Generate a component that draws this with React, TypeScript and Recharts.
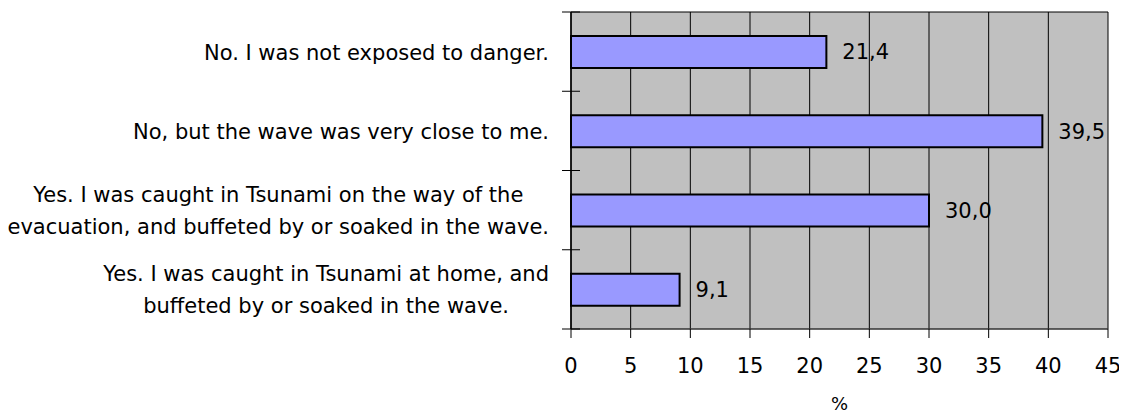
import React from 'react';
import { BarChart, Bar, XAxis, YAxis, CartesianGrid, LabelList } from 'recharts';

const categories: string[] = [
  'No. I was not exposed to danger.',
  'No, but the wave was very close to me.',
  'Yes. I was caught in Tsunami on the way of the\nevacuation, and buffeted by or soaked in the wave.',
  'Yes. I was caught in Tsunami at home, and\nbuffeted by or soaked in the wave.',
];
const values: number[] = [21.4, 39.5, 30.0, 9.1];
const xTicks: number[] = [0, 5, 10, 15, 20, 25, 30, 35, 40, 45];
const axisTitle = '%';

const data = categories.map((name, i) => ({ name, value: values[i] }));

const FONT = '"DejaVu Sans", sans-serif';
const FS = 21;
const W = 1119;
const H = 408;
const MARGIN = { top: 4, right: 19, left: 0, bottom: 0 };
const X_AXIS_H = 87;
const Y_AXIS_W = 563;
const PLOT_H = H - MARGIN.top - MARGIN.bottom - X_AXIS_H;
const BAND = PLOT_H / categories.length;

let ctx: CanvasRenderingContext2D | null = null;
const measure = (t: string) => {
  if (!ctx) {
    const c = document.createElement('canvas');
    ctx = c.getContext('2d');
  }
  if (!ctx) return t.length * 10;
  ctx.font = `${FS}px "DejaVu Sans"`;
  return ctx.measureText(t).width;
};

const YTick = (props: any) => {
  const { x, y, payload, index } = props;
  const lines: string[] = String(payload.value).split('\n');
  const right = x - 22;
  const maxW = Math.max(...lines.map(measure));
  const cx = right - maxW / 2;
  const n = lines.length;
  return (
    <g>
      <line x1={x - 9} x2={x + 9} y1={y - BAND / 2} y2={y - BAND / 2} stroke="#000" strokeWidth={1} />
      {index === categories.length - 1 && (
        <line x1={x - 9} x2={x + 9} y1={y + BAND / 2} y2={y + BAND / 2} stroke="#000" strokeWidth={1} />
      )}
      {lines.map((l, i) => (
        <text
          key={i}
          x={n > 1 ? cx : right}
          y={y + (i - (n - 1) / 2) * 32 + 8}
          textAnchor={n > 1 ? 'middle' : 'end'}
          fontFamily={FONT}
          fontSize={FS}
          fill="#000"
        >
          {l}
        </text>
      ))}
    </g>
  );
};

export default function App() {
  return (
    <BarChart width={W} height={H} data={data} layout="vertical" margin={MARGIN}>
      <CartesianGrid
        fill="#C0C0C0"
        stroke="#000"
        horizontal={{ stroke: '#808080' } as any}
        horizontalPoints={[MARGIN.top]}
      />
      <XAxis
        type="number"
        domain={[0, 45]}
        ticks={xTicks}
        interval={0}
        height={X_AXIS_H}
        tickSize={9}
        tickMargin={20}
        axisLine={{ stroke: '#333', strokeWidth: 1.5 }}
        tickLine={{ stroke: '#000' }}
        tick={{ fill: '#000', fontSize: FS, fontFamily: FONT }}
        label={{ value: axisTitle, position: 'insideBottom', offset: 6, fill: '#000', fontSize: 18, fontFamily: FONT }}
      />
      <YAxis
        type="category"
        dataKey="name"
        width={Y_AXIS_W}
        interval={0}
        tickLine={false}
        tickSize={0}
        tickMargin={0}
        axisLine={{ stroke: '#000', strokeWidth: 1.5 }}
        tick={<YTick />}
      />
      <Bar dataKey="value" fill="#9999FF" stroke="#000" strokeWidth={2} barSize={32} isAnimationActive={false}>
        <LabelList
          dataKey="value"
          position="right"
          offset={16}
          fill="#000"
          fontSize={FS}
          fontFamily={FONT}
          formatter={(v: any) => Number(v).toFixed(1).replace('.', ',')}
        />
      </Bar>
    </BarChart>
  );
}
